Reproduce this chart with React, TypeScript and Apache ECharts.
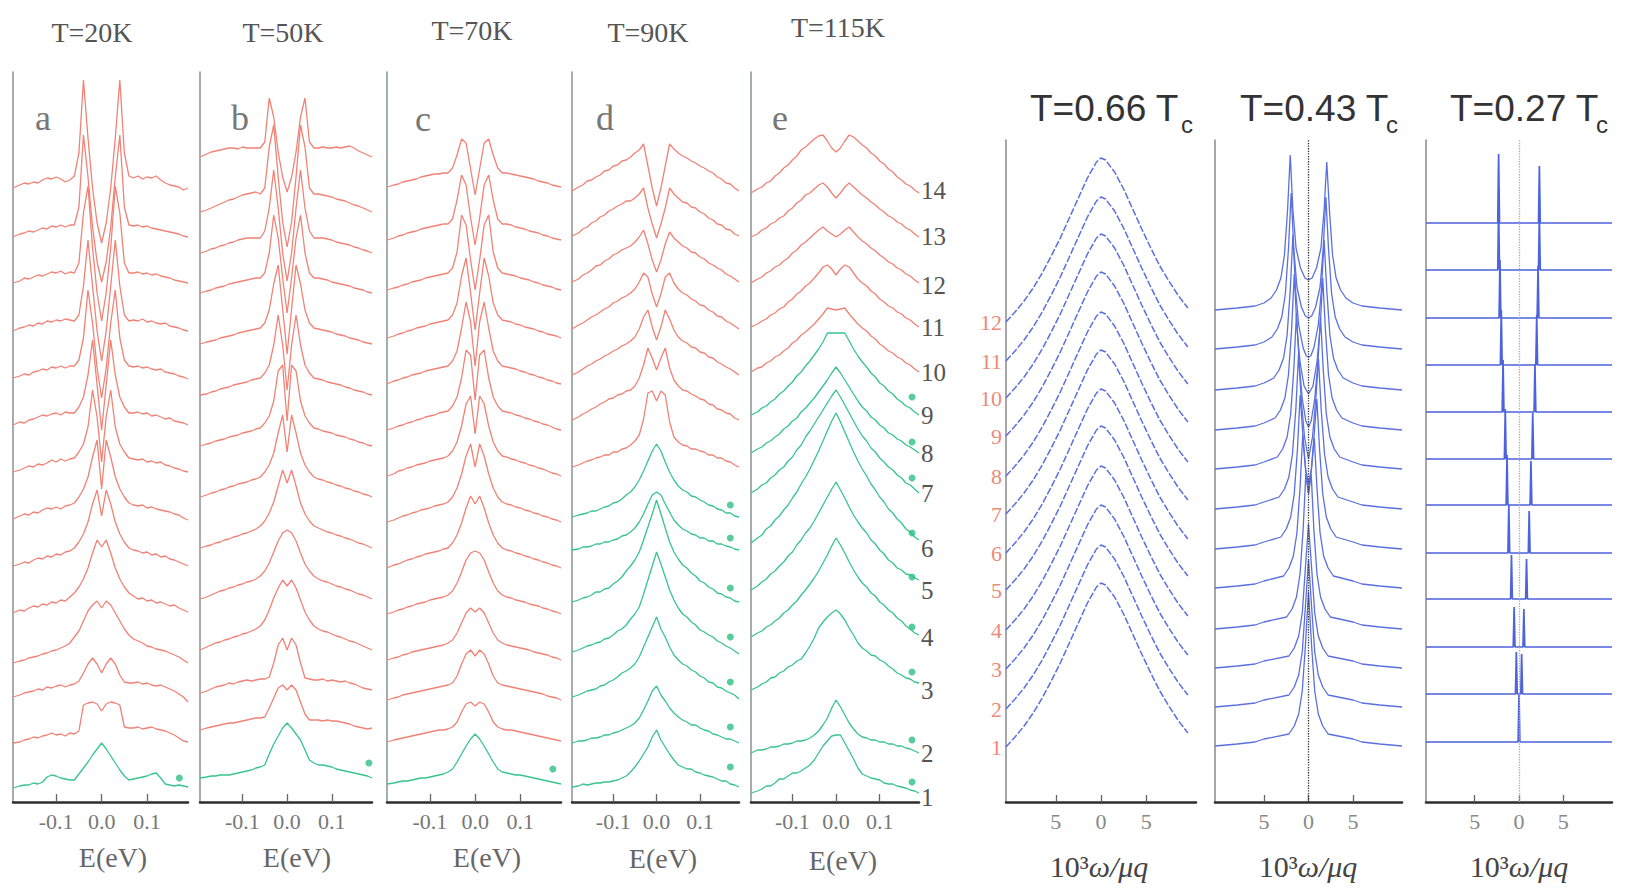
import React, { useEffect, useRef } from 'react';
import * as echarts from 'echarts';

// ---------- experimental panels (a–e) ----------
// energy grid (eV) shared by all experimental curves
const E_GRID = [-0.195, -0.18, -0.17, -0.16, -0.15, -0.14, -0.13, -0.12, -0.11, -0.1, -0.09, -0.08, -0.07,
  -0.06, -0.05, -0.04, -0.03, -0.02, -0.01, 0, 0.01, 0.02, 0.03, 0.04, 0.05, 0.06,
  0.07, 0.08, 0.09, 0.1, 0.11, 0.12, 0.13, 0.14, 0.15, 0.16, 0.17, 0.18, 0.19];

const TEMPS = ['T=20K', 'T=50K', 'T=70K', 'T=90K', 'T=115K'];
const LETTERS = ['a', 'b', 'c', 'd', 'e'];
const E_TICKS = [-0.1, 0, 0.1];

// baseline offsets of curves 1..14 (intensity units)
const LEVELS_A = [14, 59, 105, 139, 189, 236, 283, 330, 377, 424, 471, 519, 565, 614];
const LEVELS_B = [24, 72, 109, 152, 203, 254, 305, 356, 407, 458, 509, 549, 590, 645];
const LEVELS_C = [18, 60, 102, 142, 188, 234, 280, 326, 372, 418, 464, 512, 562, 615];
const LEVELS_D = [15, 59, 105, 150, 200, 252, 285, 335, 382, 427, 473, 520, 566, 611];
const LEVELS_E = [9, 49, 112, 165, 212, 259, 309, 349, 387, 430, 475, 519, 565, 609];

// number of green (bottom) curves per panel
const GREEN_COUNT = [1, 1, 1, 7, 9];

// spectra relative to their baseline, on E_GRID
const CURVES_A = [
  [0,2,3,3,5,4,6,11,13,12,10,9,8, 8,14,20,26,33,39,45,39,32,25,18,12,8, 9,10,11,12,14,15,10,4,3,2,3,2,1],
  [0,1,3,4,6,5,7,8,10,8,9,7,10, 9,12,38,40,41,39,32,39,41,40,38,16,15, 15,16,14,15,16,14,13,12,10,8,5,2,1],
  [0,2,4,5,6,8,7,10,9,11,12,10,12, 13,16,24,33,39,33,24,33,39,33,22,15,14, 14,15,13,14,12,11,12,10,8,6,3,0,-5],
  [0,2,3,5,6,7,9,10,12,13,15,17,20, 26,32,42,52,58,62,55,62,58,50,42,34,28, 24,22,20,17,16,14,13,12,10,8,6,3,0],
  [0,3,2,5,7,6,9,8,11,10,13,12,16, 20,26,34,45,60,73,66,73,60,45,34,26,20, 17,14,15,12,13,10,11,9,7,8,5,3,1],
  [0,2,4,3,6,8,7,10,9,12,11,14,15, 18,24,32,44,62,76,50,76,62,44,32,24,18, 16,15,13,14,11,12,9,10,7,6,4,2,0],
  [0,3,5,4,7,6,9,11,10,12,10,13,14, 16,22,30,42,62,79,30,79,62,42,30,22,16, 14,13,14,11,12,10,9,8,7,5,4,1,-1],
  [0,2,4,6,5,8,7,9,12,10,13,11,13, 14,20,28,45,82,55,10,55,82,45,28,20,14, 13,12,13,10,11,9,10,7,6,4,3,1,0],
  [0,3,2,5,6,8,10,9,11,12,10,13,12, 12,18,28,50,85,40,-5,40,85,50,28,18,12, 12,13,11,12,9,10,8,6,7,4,3,2,0],
  [0,2,4,3,6,7,9,8,11,10,12,10,12, 12,18,40,88,55,10,-20,10,55,88,40,18,12, 11,12,10,11,9,8,9,6,5,4,2,1,-1],
  [0,3,4,6,5,8,7,10,9,11,10,12,11, 10,16,45,91,45,0,-30,0,45,91,45,16,10, 11,10,12,9,10,8,7,8,5,4,3,1,0],
  [0,2,5,4,6,8,7,9,11,10,12,9,11, 10,20,70,97,35,-10,-38,-10,35,97,70,20,10, 10,11,9,10,8,9,7,6,5,3,2,1,0],
  [0,3,4,6,5,7,9,8,11,10,12,10,12, 12,30,102,60,10,-25,-45,-25,10,60,102,30,12, 11,12,10,11,9,8,7,6,5,4,3,1,0],
  [0,3,5,4,6,5,8,10,9,11,9,6,8, 12,35,108,50,0,-35,-55,-35,0,50,108,35,12, 10,12,9,11,10,12,8,5,3,2,1,-2,0],
];

const CURVES_B = [
  [0,1,2,2,3,3,3,4,5,6,7,8,10, 11,13,24,34,42,50,55,50,44,38,28,18,15, 13,13,12,11,9,8,7,6,5,4,3,2,0],
  [0,2,3,4,5,6,7,7,8,9,10,11,12, 12,13,22,32,42,45,40,45,40,28,16,10,10, 10,9,10,9,9,8,7,6,4,3,2,1,2],
  [0,2,4,6,7,8,10,9,11,12,13,12,13, 14,14,16,30,48,55,43,55,48,30,15,14,13, 13,14,12,13,12,11,12,10,9,7,5,4,3],
  [0,3,5,7,8,10,11,13,14,16,17,19,21, 24,30,40,52,62,70,64,70,62,50,38,30,24, 21,19,18,16,14,13,11,9,8,6,4,2,0],
  [0,2,4,6,8,9,11,12,14,15,17,18,20, 23,28,36,47,58,66,69,66,58,46,35,28,23, 20,18,17,15,13,12,10,9,7,5,4,2,0],
  [0,2,3,5,6,8,9,11,12,14,15,17,19, 22,27,35,46,62,78,65,78,62,45,34,27,22, 20,18,16,15,13,12,10,9,7,5,4,2,0],
  [0,2,4,5,7,8,10,11,13,14,15,17,18, 20,25,32,44,64,82,45,82,64,44,32,25,20, 18,17,15,14,12,11,9,8,6,5,3,2,0],
  [0,2,3,5,6,7,9,10,11,13,14,15,17, 18,23,30,45,75,81,25,81,75,45,30,23,18, 17,15,14,13,11,10,9,7,6,4,3,1,0],
  [0,1,3,4,6,7,8,10,11,12,13,15,16, 17,22,30,50,80,50,5,50,80,50,30,22,17, 16,15,13,12,11,10,8,7,5,4,3,1,0],
  [0,2,3,4,6,7,8,9,11,12,13,14,15, 16,21,34,60,79,35,-10,35,79,60,34,21,16, 15,14,13,12,10,9,8,6,5,4,2,1,0],
  [0,2,3,5,6,7,9,10,11,12,13,14,15, 15,20,40,78,55,15,-20,15,55,78,40,20,15, 15,14,13,11,10,9,8,7,5,4,3,1,0],
  [0,2,4,5,7,8,10,11,13,14,15,15,15, 15,22,45,83,45,0,-28,0,45,83,45,22,15, 15,15,14,13,11,10,9,8,6,5,3,2,0],
  [0,2,4,6,8,10,12,13,15,17,18,19,20, 18,24,65,87,35,-10,-35,-10,35,87,65,24,18, 18,17,16,15,13,12,11,9,7,6,4,2,0],
  [0,3,5,6,7,8,9,9,8,10,9,9,9, 9,15,59,40,5,-20,-35,-20,5,40,59,15,9, 9,10,9,9,10,9,10,11,9,6,4,2,0],
];

const CURVES_C = [
  [0,1,2,3,3,4,5,6,6,7,8,9,10, 12,15,22,30,38,45,50,45,38,30,22,15,12, 11,10,9,9,8,7,6,5,4,3,2,1,0],
  [0,2,3,4,5,6,7,8,9,10,11,12,12, 13,15,20,30,38,40,36,40,38,30,20,15,13, 12,12,11,10,9,8,7,6,5,4,3,2,1],
  [0,2,3,5,6,7,8,9,10,11,12,13,14, 15,17,24,36,46,50,44,50,46,36,24,17,15, 14,13,12,11,10,9,8,7,6,4,3,2,0],
  [0,2,3,5,6,8,9,10,11,12,13,14,15, 17,20,27,37,47,52,48,52,47,37,27,20,17, 15,14,13,12,11,10,8,7,6,5,3,2,0],
  [0,2,4,5,7,8,10,11,12,14,15,16,17, 19,23,31,42,54,61,63,61,54,42,31,23,19, 17,16,14,13,12,10,9,8,6,5,3,2,0],
  [0,3,4,6,8,9,11,12,14,15,16,17,19, 20,25,33,45,60,72,64,72,60,45,33,25,20, 18,17,15,14,12,11,9,8,6,5,3,2,0],
  [0,2,4,6,7,9,10,12,13,14,16,17,18, 20,25,34,48,66,78,55,78,66,48,34,25,20, 18,17,15,14,12,11,9,8,6,5,3,2,0],
  [0,2,5,6,8,9,11,12,13,15,16,17,18, 20,25,34,50,72,80,42,80,72,50,34,25,20, 19,17,16,14,13,11,10,8,7,5,3,2,0],
  [0,2,4,5,7,8,10,11,13,14,15,17,18, 19,24,33,52,80,75,30,75,80,52,33,24,19, 18,17,15,14,12,11,9,8,6,5,3,1,0],
  [0,3,4,6,7,9,10,11,13,14,15,16,17, 18,23,33,56,82,62,18,62,82,56,33,23,18, 17,16,15,13,12,10,9,7,6,4,3,1,0],
  [0,2,4,5,7,8,10,11,12,14,15,16,17, 18,23,35,62,80,45,8,45,80,62,35,23,18, 17,16,14,13,11,10,9,7,6,4,3,2,0],
  [0,2,3,5,6,8,9,10,12,13,14,15,16, 17,22,38,75,65,30,0,30,65,75,38,22,17, 16,15,14,12,11,10,8,7,5,4,3,1,0],
  [0,2,4,5,7,8,9,11,12,13,14,15,16, 16,21,40,65,55,22,-5,22,55,65,40,21,16, 16,15,13,12,11,9,8,7,5,4,2,1,0],
  [0,2,3,5,6,7,8,10,11,12,13,13,14, 14,19,32,48,44,18,-8,18,44,48,32,19,14, 14,13,12,11,10,9,8,6,5,4,2,1,0],
];

const CURVES_D = [
  [0,1,3,2,3,4,4,5,5,6,7,9,11, 15,20,26,33,40,50,57,47,40,33,27,22,20, 18,18,15,14,12,11,10,8,6,6,3,2,0],
  [0,2,2,3,5,5,6,8,8,10,11,13,15, 17,20,25,33,42,52,57,48,42,35,30,26,23, 21,18,18,15,13,12,9,8,6,4,4,2,0],
  [0,2,4,6,7,8,11,12,15,17,20,24,26, 29,33,40,50,60,70,80,68,60,50,42,37,33, 31,27,25,21,19,15,14,10,9,6,4,2,-2],
  [0,2,4,6,7,9,10,13,14,17,21,23,27, 33,38,45,58,72,86,100,88,75,62,52,44,38, 35,30,27,22,20,17,15,11,9,6,4,1,-2],
  [0,2,4,5,7,10,10,13,14,18,21,25,31, 36,42,50,62,75,88,102,88,74,60,50,43,37, 34,29,26,21,19,15,13,9,8,5,4,1,0],
  [0,1,3,3,4,6,6,8,8,10,11,14,15, 18,22,28,36,46,55,58,55,46,38,30,25,21, 19,16,15,12,12,9,9,6,6,4,3,1,0],
  [0,2,3,4,6,6,8,10,11,14,15,18,22, 25,30,37,46,56,66,73,66,55,45,37,31,27, 25,21,20,17,15,12,11,8,7,4,4,1,0],
  [0,2,4,6,7,9,10,12,12,15,15,18,19, 22,26,32,48,74,76,66,76,72,45,30,25,22, 21,18,18,16,15,12,12,9,9,6,5,2,0],
  [0,3,6,8,11,13,16,18,21,22,25,26,29, 30,34,42,55,72,62,50,62,72,52,40,34,30, 29,26,24,21,20,16,15,11,10,7,6,2,0],
  [0,3,6,9,11,14,16,19,21,24,26,29,31, 34,38,46,58,65,48,35,48,65,56,45,38,34, 32,28,27,23,22,18,17,13,11,8,6,3,0],
  [0,4,6,9,12,14,17,20,22,26,28,31,33, 36,40,47,56,52,35,22,35,52,56,46,40,36, 34,30,28,24,23,19,17,13,12,8,6,3,0],
  [0,3,7,9,12,16,17,21,23,27,29,32,34, 36,40,45,52,38,22,10,22,38,50,44,40,36, 34,30,29,25,23,19,17,14,12,8,6,3,0],
  [0,3,7,9,13,15,19,21,25,27,30,32,35, 35,38,42,48,28,12,-2,12,28,48,42,38,34, 33,29,28,24,22,18,16,12,11,7,6,2,0],
  [0,4,6,10,11,14,16,20,21,25,26,30,31, 34,38,41,47,25,3,-15,3,25,47,42,38,35, 33,30,28,25,23,20,18,14,12,8,7,3,0],
];

const CURVES_E = [
  [0,2,4,7,7,10,14,14,17,20,20,22,25, 28,33,40,47,52,57,58,58,50,42,34,25,19, 17,15,14,13,10,9,9,7,6,5,3,2,0],
  [0,3,3,4,6,6,7,9,9,10,12,12,13, 15,18,22,28,35,45,53,46,38,30,24,19,16, 15,13,13,11,11,9,9,7,7,5,4,2,0],
  [0,3,6,8,12,13,17,19,23,25,29,31,37, 44,52,62,68,73,77,80,76,70,62,55,47,42, 39,35,34,30,28,24,21,17,15,12,11,8,7],
  [0,4,6,10,12,16,19,24,27,32,36,42,47, 53,59,66,74,82,91,99,92,84,75,67,60,54, 50,44,41,35,32,27,24,19,16,11,8,4,2],
  [0,4,8,11,16,19,24,28,34,38,45,50,57, 62,69,77,85,93,101,108,100,92,83,75,68,62, 57,50,46,40,36,30,27,22,20,16,15,12,10],
  [0,5,8,14,17,23,27,33,38,45,51,59,66, 74,83,92,102,112,122,130,121,111,101,91,82,74, 67,59,53,46,41,34,30,24,20,14,11,6,3],
  [0,4,8,10,15,18,23,26,32,36,43,48,56, 62,69,76,83,90,97,103,96,88,80,72,64,57, 52,45,41,35,31,26,23,18,15,10,8,4,0],
  [0,4,6,10,12,16,19,24,27,32,35,41,45, 50,55,61,67,73,80,86,80,73,66,59,52,46, 42,36,33,28,25,20,18,14,12,8,6,3,0],
  [0,3,7,9,13,16,21,24,29,33,39,43,49, 54,60,66,73,82,82,82,82,82,74,66,59,53, 48,42,38,32,29,24,21,16,13,9,7,3,0],
  [0,4,5,9,11,15,17,21,24,29,32,37,40, 44,48,53,58,64,63,62,63,64,58,53,48,44, 41,36,33,28,25,21,19,15,13,9,7,3,0],
  [0,3,6,8,12,14,18,20,25,28,33,36,41, 44,49,54,60,62,58,52,58,62,60,54,48,44, 41,36,33,28,25,21,19,15,13,9,7,3,0],
  [0,4,6,10,12,16,18,22,25,30,33,38,41, 45,49,53,56,52,49,46,49,53,56,51,46,42, 39,35,32,28,25,21,19,15,13,9,7,3,0],
  [0,3,7,9,13,15,19,21,26,29,34,37,42, 44,48,52,54,50,44,39,44,50,54,50,46,42, 39,35,32,28,25,21,19,15,13,9,7,3,0],
  [0,4,6,10,12,17,20,25,28,33,37,43,46, 50,54,57,58,52,45,41,45,52,58,56,52,48, 45,40,37,32,29,24,21,16,13,9,7,3,0],
];

// green marker dots [E, intensity]
const DOTS_A = [[0.171, 24]];
const DOTS_B = [[0.183, 39]];
const DOTS_C = [[0.172, 33]];
const DOTS_D = [[0.17, 35], [0.17, 75], [0.17, 120], [0.17, 165], [0.17, 214], [0.17, 264], [0.17, 297]];
const DOTS_E = [[0.174, 20], [0.174, 62], [0.174, 130], [0.174, 175], [0.174, 225], [0.174, 269], [0.174, 324], [0.174, 360], [0.174, 405]];

const CURVE_NUMBERS = ['1', '2', '3', '4', '5', '6', '7', '8', '9', '10', '11', '12', '13', '14'];

// ---------- theory panels ----------
const THEORY_TITLES = ['T=0.66 T', 'T=0.43 T', 'T=0.27 T'];
const W_TICKS = [-5, 0, 5];

const X_066 = [-10.5, -9.5, -8.5, -7.5, -6.5, -5.5, -4.5, -3.5, -2.5, -1.5, -0.5, 0, 0.5, 1.5, 2.5, 3.5, 4.5, 5.5, 6.5, 7.5, 8.5, 9.6];
const SHAPE_066 = [0, 10, 21, 34, 49, 66, 84, 104, 124, 144, 160, 164, 162, 150, 133, 113, 93, 74, 56, 41, 27, 14];
const LEVELS_066 = [55, 93, 133, 172, 212, 249, 288, 326, 366, 404, 441, 480];

const LEVELS_043 = [56, 95, 134, 173, 214, 253, 293, 333, 372, 412, 453, 492];
const CURVES_043 = [
  [[-10.5,0],[-8,2],[-6,4],[-5,7],[-2.2,12],[-1.6,20],[-1.1,32],[-0.7,55],[-0.35,100],[0,154],[0.35,100],[0.7,55],[1.1,32],[1.6,20],[2.2,12],[5,7],[6,4],[8,2],[10.5,0]],
  [[-10.5,0],[-8,2],[-6,4],[-5,7],[-2.2,12],[-1.6,20],[-1.1,32],[-0.7,55],[-0.35,100],[0,147],[0.35,100],[0.7,55],[1.1,32],[1.6,20],[2.2,12],[5,7],[6,4],[8,2],[10.5,0]],
  [[-10.5,0],[-8,2],[-6,4],[-5,7],[-2.2,12],[-1.6,20],[-1.1,32],[-0.7,55],[-0.35,100],[0,144],[0.35,100],[0.7,55],[1.1,32],[1.6,20],[2.2,12],[5,7],[6,4],[8,2],[10.5,0]],
  [[-10.5,0],[-8,2],[-6,4],[-5,7],[-2.45,12],[-1.85,20],[-1.35,32],[-0.95,55],[-0.6,100],[-0.3,155],[0,135],[0.3,155],[0.6,100],[0.95,55],[1.35,32],[1.85,20],[2.45,12],[5,7],[6,4],[8,2],[10.5,0]],
  [[-10.5,0],[-8,2],[-6,4],[-5,7],[-2.8,12],[-2.2,20],[-1.7,32],[-1.3,55],[-0.95,100],[-0.65,153],[-0.35,120],[0,95],[0.35,120],[0.65,150],[0.95,100],[1.3,55],[1.7,32],[2.2,20],[2.8,12],[5,7],[6,4],[8,2],[10.5,0]],
  [[-10.5,0],[-8,2],[-6,4],[-5,7],[-3.1,12],[-2.5,20],[-2,32],[-1.6,55],[-1.24,100],[-0.94,154],[-0.64,115],[-0.3,78],[0,66],[0.3,78],[0.64,115],[0.94,150],[1.24,100],[1.6,55],[2,32],[2.5,20],[3.1,12],[5,7],[6,4],[8,2],[10.5,0]],
  [[-10.5,0],[-8,2],[-6,4],[-5,7],[-3.3,12],[-2.7,20],[-2.2,32],[-1.8,55],[-1.42,100],[-1.12,155],[-0.82,110],[-0.45,72],[0,50],[0.45,72],[0.82,110],[1.12,150],[1.42,100],[1.8,55],[2.2,32],[2.7,20],[3.3,12],[5,7],[6,4],[8,2],[10.5,0]],
  [[-10.5,0],[-8,2],[-6,4],[-5,7],[-3.5,12],[-2.9,20],[-2.4,32],[-2,55],[-1.65,100],[-1.35,156],[-1.05,105],[-0.7,70],[-0.3,48],[0,42],[0.3,48],[0.7,70],[1.05,105],[1.35,152],[1.65,100],[2,55],[2.4,32],[2.9,20],[3.5,12],[5,7],[6,4],[8,2],[10.5,0]],
  [[-10.5,0],[-8,2],[-6,4],[-5,7],[-3.75,12],[-3.15,20],[-2.65,32],[-2.25,55],[-1.9,100],[-1.6,156],[-1.3,102],[-0.95,68],[-0.5,44],[0,36],[0.5,44],[0.95,68],[1.3,102],[1.6,152],[1.9,100],[2.25,55],[2.65,32],[3.15,20],[3.75,12],[5,7],[6,4],[8,2],[10.5,0]],
  [[-10.5,0],[-8,2],[-6,4],[-5,7],[-3.9,12],[-3.3,20],[-2.8,32],[-2.4,55],[-2.05,100],[-1.75,155],[-1.45,100],[-1.1,65],[-0.6,42],[-0.25,34],[0,33],[0.25,34],[0.6,42],[1.1,65],[1.45,100],[1.75,150],[2.05,100],[2.4,55],[2.8,32],[3.3,20],[3.9,12],[5,7],[6,4],[8,2],[10.5,0]],
  [[-10.5,0],[-8,2],[-6,4],[-5,7],[-4.1,12],[-3.5,20],[-3,32],[-2.6,55],[-2.25,100],[-1.95,156],[-1.65,100],[-1.3,62],[-0.8,42],[-0.35,33],[0,31],[0.35,33],[0.8,42],[1.3,62],[1.65,100],[1.95,152],[2.25,100],[2.6,55],[3,32],[3.5,20],[4.1,12],[5,7],[6,4],[8,2],[10.5,0]],
  [[-10.5,0],[-8,2],[-6,4],[-5,7],[-4.2,12],[-3.6,20],[-3.1,32],[-2.7,55],[-2.35,100],[-2.05,155],[-1.75,100],[-1.4,62],[-0.9,42],[-0.4,32],[0,30],[0.4,32],[0.9,42],[1.4,62],[1.75,100],[2.05,148],[2.35,100],[2.7,55],[3.1,32],[3.6,20],[4.2,12],[5,7],[6,4],[8,2],[10.5,0]],
];

const LEVELS_027 = [60, 108, 155, 203, 249, 297, 343, 390, 437, 484, 532, 579];
const CURVES_027 = [
  [[-10.5,0],[-0.1,0],[0,48],[0.1,0],[10.5,0]],
  [[-10.5,0],[-0.4,0],[-0.3,42],[-0.2,0],[0.2,0],[0.3,40],[0.4,0],[10.5,0]],
  [[-10.5,0],[-0.65,0],[-0.55,40],[-0.45,0],[0.45,0],[0.55,38],[0.65,0],[10.5,0]],
  [[-10.5,0],[-0.95,0],[-0.85,44],[-0.75,0],[0.75,0],[0.85,40],[0.95,0],[10.5,0]],
  [[-10.5,0],[-1.25,0],[-1.15,48],[-1.05,0],[1.05,0],[1.15,42],[1.25,0],[10.5,0]],
  [[-10.5,0],[-1.45,0],[-1.35,50],[-1.25,0],[1.25,0],[1.35,44],[1.45,0],[10.5,0]],
  [[-10.5,0],[-1.65,0],[-1.55,50],[-1.45,0],[1.45,0],[1.55,46],[1.65,0],[10.5,0]],
  [[-10.5,0],[-1.9,0],[-1.8,52],[-1.7,0],[1.7,0],[1.8,48],[1.9,0],[10.5,0]],
  [[-10.5,0],[-2.1,0],[-2.0,55],[-1.9,0],[1.9,0],[2.0,50],[2.1,0],[10.5,0]],
  [[-10.5,0],[-2.25,0],[-2.15,58],[-2.05,0],[2.05,0],[2.15,52],[2.25,0],[10.5,0]],
  [[-10.5,0],[-2.4,0],[-2.3,60],[-2.2,0],[2.2,0],[2.3,55],[2.4,0],[10.5,0]],
  [[-10.5,0],[-2.4,0],[-2.3,69],[-2.2,0],[2.2,0],[2.3,57],[2.4,0],[10.5,0]],
];
const THEORY_NUMBERS = ['1', '2', '3', '4', '5', '6', '7', '8', '9', '10', '11', '12'];

// ---------- styling / layout ----------
const RED = '#f08276';
const GREEN = '#37c48f';
const BLUE = '#5a6fe0';
const SERIF = 'Liberation Serif';
const SANS = 'Liberation Sans';

const EXP_GRIDS = [
  { left: 13, width: 175 },
  { left: 200, width: 172 },
  { left: 387, width: 174 },
  { left: 572, width: 167 },
  { left: 751, width: 168 },
];
const TH_GRIDS = [
  { left: 1006, width: 190 },
  { left: 1215, width: 187 },
  { left: 1426, width: 186 },
];

function buildOption() {
  const grid: any[] = [];
  const xAxis: any[] = [];
  const yAxis: any[] = [];
  const series: any[] = [];
  const graphic: any[] = [];

  const expLevels = [LEVELS_A, LEVELS_B, LEVELS_C, LEVELS_D, LEVELS_E];
  const expCurves = [CURVES_A, CURVES_B, CURVES_C, CURVES_D, CURVES_E];
  const expDots = [DOTS_A, DOTS_B, DOTS_C, DOTS_D, DOTS_E];

  EXP_GRIDS.forEach((g, p) => {
    grid.push({ left: g.left, width: g.width, top: 72, height: 730, containLabel: false });
    xAxis.push({
      gridIndex: p, type: 'value', min: -0.195, max: 0.19,
      axisLine: { show: true, onZero: false, lineStyle: { color: '#2e2e2e', width: 2.5 } },
      axisTick: { show: true, inside: true, length: 8, customValues: E_TICKS, lineStyle: { color: '#666', width: 1.3 } },
      axisLabel: {
        show: true, customValues: E_TICKS, margin: 8, color: '#777', fontFamily: SERIF, fontSize: 22,
        formatter: (v: number) => v.toFixed(1),
      },
      splitLine: { show: false },
    });
    yAxis.push({
      gridIndex: p, type: 'value', min: 0, max: 730,
      axisLine: { show: true, onZero: false, lineStyle: { color: '#8a928e', width: 1.5 } },
      axisTick: { show: false }, axisLabel: { show: false }, splitLine: { show: false },
    });
    const lv = expLevels[p];
    expCurves[p].forEach((r, k) => {
      series.push({
        type: 'line', xAxisIndex: p, yAxisIndex: p, symbol: 'none', silent: true, smooth: false,
        lineStyle: { color: k < GREEN_COUNT[p] ? GREEN : RED, width: 1.3 },
        data: E_GRID.map((e, i) => [e, lv[k] + r[i]]),
        z: 2,
      });
    });
    series.push({
      type: 'scatter', xAxisIndex: p, yAxisIndex: p, symbol: 'circle', symbolSize: 7, silent: true,
      itemStyle: { color: '#2dbf84' }, data: expDots[p], z: 3,
    });
  });

  const thLevels = [LEVELS_066, LEVELS_043, LEVELS_027];
  TH_GRIDS.forEach((g, t) => {
    const gi = 5 + t;
    grid.push({ left: g.left, width: g.width, top: 140, height: 662, containLabel: false });
    xAxis.push({
      gridIndex: gi, type: 'value', min: -10.5, max: 10.5,
      axisLine: { show: true, onZero: false, lineStyle: { color: '#2e2e2e', width: 2.5 } },
      axisTick: { show: true, inside: true, length: 7, customValues: W_TICKS, lineStyle: { color: '#666', width: 1.3 } },
      axisLabel: {
        show: true, customValues: W_TICKS, margin: 8, color: '#888', fontFamily: SERIF, fontSize: 22,
        formatter: (v: number) => String(Math.abs(v)),
      },
      splitLine: { show: false },
    });
    yAxis.push({
      gridIndex: gi, type: 'value', min: 0, max: 662,
      axisLine: { show: true, onZero: false, lineStyle: { color: '#8a8a8a', width: 1.5 } },
      axisTick: { show: false }, axisLabel: { show: false }, splitLine: { show: false },
    });
    const lv = thLevels[t];
    if (t === 0) {
      lv.forEach((b) => {
        series.push({
          type: 'line', xAxisIndex: gi, yAxisIndex: gi, symbol: 'none', silent: true,
          lineStyle: { color: BLUE, width: 1.5, type: [7, 2] },
          data: X_066.map((x, i) => [x, b + SHAPE_066[i]]),
        });
      });
    } else {
      const curves = t === 1 ? CURVES_043 : CURVES_027;
      curves.forEach((c, k) => {
        const s: any = {
          type: 'line', xAxisIndex: gi, yAxisIndex: gi, symbol: 'none', silent: true,
          lineStyle: { color: t === 1 ? BLUE : '#4d62dc', width: t === 1 ? 1.3 : 1.7 },
          data: c.map(([x, y]) => [x, lv[k] + y]),
        };
        if (k === 0) {
          s.markLine = {
            silent: true, symbol: 'none', label: { show: false },
            lineStyle: { type: 'dotted', color: t === 1 ? '#333' : '#aaa', width: 1.3 },
            data: [{ xAxis: 0 }],
          };
        }
        series.push(s);
      });
    }
  });

  // titles and labels
  const titlePos = [[92, 32], [283, 32], [472, 30], [648, 32], [838, 27]];
  TEMPS.forEach((txt, i) => {
    graphic.push({ type: 'text', x: titlePos[i][0], y: titlePos[i][1],
      style: { text: txt, fontFamily: SERIF, fontSize: 28, fill: '#555', align: 'center', verticalAlign: 'middle' } });
  });
  const letterPos = [[43, 118], [240, 118], [423, 119], [605, 118], [780, 118]];
  LETTERS.forEach((txt, i) => {
    graphic.push({ type: 'text', x: letterPos[i][0], y: letterPos[i][1],
      style: { text: txt, fontFamily: SERIF, fontSize: 36, fill: '#777', align: 'center', verticalAlign: 'middle' } });
  });
  const eLabPos = [[113, 857], [297, 857], [487, 857], [663, 858], [843, 860]];
  eLabPos.forEach(([x, y]) => {
    graphic.push({ type: 'text', x, y,
      style: { text: 'E(eV)', fontFamily: SERIF, fontSize: 28, fill: '#666', align: 'center', verticalAlign: 'middle' } });
  });
  const numY = [797, 753, 690, 637, 590, 548, 493, 453, 415, 372, 327, 285, 236, 190];
  CURVE_NUMBERS.forEach((txt, i) => {
    graphic.push({ type: 'text', x: 921, y: numY[i],
      style: { text: txt, fontFamily: SERIF, fontSize: 25, fill: '#555', align: 'left', verticalAlign: 'middle' } });
  });
  const thTitleX = [1030, 1240, 1450];
  const thSubX = [1181, 1386, 1596];
  THEORY_TITLES.forEach((txt, i) => {
    graphic.push({ type: 'text', x: thTitleX[i], y: 108,
      style: { text: txt, fontFamily: SANS, fontSize: 37, fill: '#333', align: 'left', verticalAlign: 'middle' } });
    graphic.push({ type: 'text', x: thSubX[i], y: 124,
      style: { text: 'c', fontFamily: SANS, fontSize: 24, fill: '#333', align: 'left', verticalAlign: 'middle' } });
  });
  const thXLab = [1099, 1308, 1519];
  thXLab.forEach((x) => {
    graphic.push({ type: 'text', x, y: 866,
      style: {
        text: '{n|10³}{w|ω/μq}', align: 'center', verticalAlign: 'middle', fill: '#444',
        rich: {
          n: { fontFamily: SERIF, fontSize: 30, fill: '#444' },
          w: { fontFamily: SERIF, fontSize: 30, fontStyle: 'italic', fill: '#444' },
        },
      } });
  });
  THEORY_NUMBERS.forEach((txt, i) => {
    graphic.push({ type: 'text', x: 1002, y: 802 - LEVELS_066[i],
      style: { text: txt, fontFamily: SERIF, fontSize: 22, fill: '#ec8a78', align: 'right', verticalAlign: 'middle' } });
  });

  return { animation: false, backgroundColor: '#ffffff', grid, xAxis, yAxis, series, graphic };
}

export default function App() {
  const ref = useRef<HTMLDivElement>(null);
  useEffect(() => {
    if (!ref.current) return;
    const chart = echarts.init(ref.current, null, { renderer: 'svg' });
    chart.setOption(buildOption() as any);
    return () => chart.dispose();
  }, []);
  return <div ref={ref} style={{ position: 'fixed', left: 0, top: 0, width: 1625, height: 889, background: '#fff' }} />;
}
